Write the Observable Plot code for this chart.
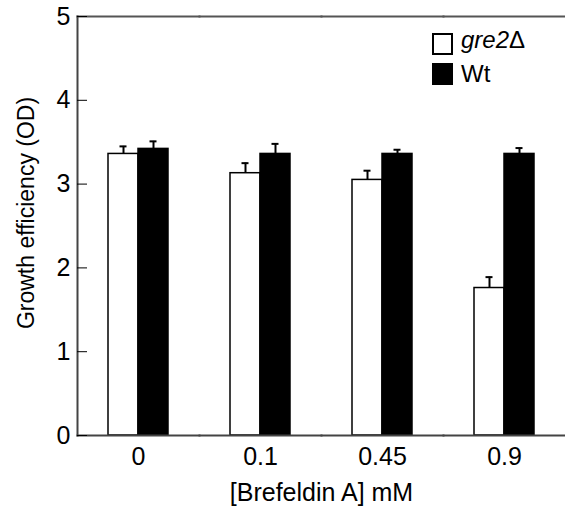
<!DOCTYPE html>
<html><head><meta charset="utf-8">
<script src="https://cdn.jsdelivr.net/npm/d3@7"></script>
<script src="https://cdn.jsdelivr.net/npm/@observablehq/plot@0.6"></script>
<style>
body{margin:0;background:#fff;}
#wrap{position:relative;width:565px;height:507px;}
.leg{position:absolute;font-family:"Liberation Sans",Arial,sans-serif;font-size:24px;line-height:24px;color:#000;white-space:nowrap;}
.box{position:absolute;box-sizing:border-box;width:21px;height:22px;border:2px solid #000;}
</style></head><body>
<div id="wrap"></div>
<script>
const doses = ["0", "0.1", "0.45", "0.9"];
const strains = ["gre2Δ", "Wt"];
const gre2Values = [3.36, 3.13, 3.05, 1.76];
const gre2Errors = [0.09, 0.12, 0.11, 0.13];
const wtValues = [3.42, 3.36, 3.36, 3.36];
const wtErrors = [0.09, 0.12, 0.05, 0.07];
const yTicks = [0, 1, 2, 3, 4, 5];
const xLabel = "[Brefeldin A] mM";
const yLabel = "Growth efficiency (OD)";
const colors = ["#ffffff", "#000000"];

const rows = doses.flatMap((d, i) => [
  {dose: d, strain: strains[0], value: gre2Values[i], err: gre2Errors[i]},
  {dose: d, strain: strains[1], value: wtValues[i], err: wtErrors[i]}
]);

const font = '"Liberation Sans", Arial, Helvetica, sans-serif';
const chart = Plot.plot({
  width: 565, height: 507,
  marginTop: 16, marginBottom: 72, marginLeft: 77, marginRight: 0,
  style: {fontFamily: font, background: "#fff", color: "#000"},
  fx: {domain: doses, padding: 0},
  x: {domain: strains, paddingInner: 0, paddingOuter: 0.97, axis: null},
  y: {domain: [0, 5]},
  color: {domain: strains, range: colors},
  marks: [
    Plot.barY(rows, {fx: "dose", x: "strain", y: "value", fill: "strain", stroke: "#000", strokeWidth: 1.5}),
    Plot.ruleX(rows, {fx: "dose", x: "strain", y1: "value", y2: d => d.value + d.err, stroke: "#000", strokeWidth: 2}),
    Plot.tickY(rows, {fx: "dose", x: "strain", y: d => d.value + d.err, stroke: "#000", strokeWidth: 2, inset: 11.5}),
    Plot.frame({anchor: "top", stroke: "#555", strokeWidth: 2}),
    Plot.frame({anchor: "bottom", stroke: "#444", strokeWidth: 2}),
    Plot.frame({anchor: "left", facetAnchor: "left", stroke: "#444", strokeWidth: 2}),
    Plot.axisY(yTicks, {tickSize: -10, tickPadding: 17, fontSize: 25, label: null, tickFormat: d3.format("d")}),
    Plot.axisFx({anchor: "bottom", tickSize: 0, tickPadding: 12, fontSize: 25, label: xLabel, labelAnchor: "center", labelOffset: 65}),
    Plot.text([yLabel], {frameAnchor: "left", facetAnchor: "left", textAnchor: "middle", rotate: -90, dx: -51, dy: -13, fontSize: 23})
  ]
});
const wrap = document.getElementById("wrap");
wrap.appendChild(chart);

// legend
const legendTops = [33, 63];
const textTops = [28, 62];
strains.forEach((s, i) => {
  const b = document.createElement("div");
  b.className = "box";
  b.style.left = "432px";
  b.style.top = legendTops[i] + "px";
  b.style.background = colors[i];
  wrap.appendChild(b);
  const t = document.createElement("div");
  t.className = "leg";
  t.style.left = "461px";
  t.style.top = textTops[i] + "px";
  if (s.endsWith("Δ")) {
    const it = document.createElement("span");
    it.style.fontStyle = "italic";
    it.textContent = s.slice(0, -1);
    t.appendChild(it);
    t.appendChild(document.createTextNode("Δ"));
  } else {
    t.textContent = s;
  }
  wrap.appendChild(t);
});
</script>
</body></html>
